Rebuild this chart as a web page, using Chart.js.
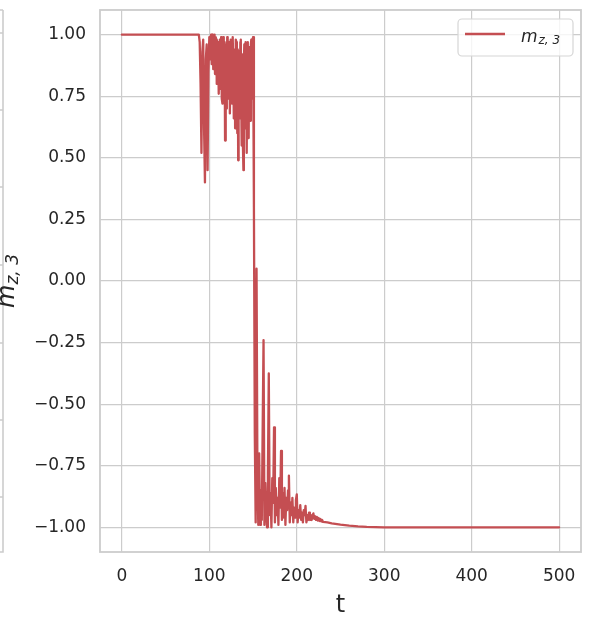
<!DOCTYPE html>
<html>
<head>
<meta charset="utf-8">
<script src="https://cdn.jsdelivr.net/npm/chart.js@4.4.1/dist/chart.umd.min.js"></script>
<style>
  html, body { margin: 0; padding: 0; background: #fff; }
</style>
</head>
<body>
<canvas id="chart" width="596" height="620"></canvas>
<script>
/* ===== data ===== */
const tValues = [
  0, 88, 89, 90, 91, 92, 93, 94, 95, 96, 97, 98, 99,
  100, 100.5, 101, 101.5, 102, 102.5, 103, 103.5, 104, 104.5,
  105, 105.5, 106, 106.5, 107, 107.5, 108, 108.5, 109, 109.5,
  110, 110.5, 111, 111.5, 112, 112.5, 113, 113.5, 114, 114.5,
  115, 115.5, 116, 116.5, 117, 117.5, 118, 118.5, 119, 119.5,
  120, 120.5, 121, 121.5, 122, 122.5, 123, 123.5, 124, 124.5,
  125, 125.5, 126, 126.5, 127, 127.5, 128, 128.5, 129, 129.5,
  130, 130.5, 131, 131.5, 132, 132.5, 133, 133.5, 134, 134.5,
  135, 135.5, 136, 136.5, 137, 137.5, 138, 138.5, 139, 139.5,
  140, 140.5, 141, 141.5, 142, 142.5, 143, 143.5, 144, 144.5,
  145, 145.5, 146, 146.5, 147, 147.5, 148, 148.5, 149, 149.5,
  150, 151, 152, 153, 154, 155, 156, 157, 158, 159,
  160, 161, 162, 163, 164, 165, 166, 167, 168, 169,
  170, 171, 172, 173, 174, 175, 176, 177, 178, 179,
  180, 181, 182, 183, 184, 185, 186, 187, 188, 189,
  190, 191, 192, 193, 194, 195, 196, 197, 198, 199,
  200, 201, 202, 203, 204, 205, 206, 207, 208, 209,
  210, 211, 212, 213, 214, 215, 216, 217, 218, 219,
  220, 221, 222, 223, 224, 225, 226, 227, 228, 229,
  230, 235, 240, 250, 260, 270, 280, 300, 500
];
const mzValues = [
  1.00, 1.00, 0.97, 0.80, 0.52, 0.93, 0.98, 0.62, 0.40, 0.90, 0.96, 0.45, 0.85,
  0.99, 0.90, 0.93, 0.98, 1.00, 0.88, 0.95, 1.00, 0.99, 0.86,
  0.88, 0.97, 1.00, 0.84, 0.90, 0.99, 0.98, 0.80, 0.82, 0.96,
  0.97, 0.86, 0.76, 0.95, 0.98, 0.78, 0.85, 0.99, 0.95, 0.74,
  0.72, 0.94, 0.99, 0.83, 0.80, 0.97, 0.57, 0.88, 0.96, 0.70,
  0.86, 0.99, 0.98, 0.80, 0.74, 0.95, 0.97, 0.68, 0.82, 0.98,
  0.95, 0.76, 0.72, 0.93, 0.99, 0.84, 0.66, 0.90, 0.94, 0.62,
  0.78, 0.98, 0.97, 0.72, 0.60, 0.94, 0.49, 0.80, 0.93, 0.66,
  0.70, 0.97, 0.98, 0.74, 0.55, 0.90, 0.92, 0.58, 0.45, 0.88,
  0.96, 0.70, 0.62, 0.97, 0.90, 0.56, 0.52, 0.93, 0.97, 0.64,
  0.58, 0.92, 0.95, 0.70, 0.65, 0.96, 0.98, 0.74, 0.80, 0.96,
  0.99, 0.30, -0.62, -0.98, 0.05, -0.80, -0.99, -0.70, -0.99, -0.85,
  -0.97, -0.60, -0.24, -0.99, -0.82, -0.92, -1.00, -0.78, -0.375, -0.95,
  -0.86, -1.00, -0.80, -0.90, -0.594, -0.98, -0.84, -0.95, -0.88, -0.99,
  -0.80, -0.92, -0.69, -0.97, -0.86, -0.96, -0.84, -0.99, -0.88, -0.93,
  -0.85, -0.79, -0.98, -0.90, -0.95, -0.88, -0.98, -0.92, -0.96, -0.89,
  -0.866, -0.98, -0.93, -0.96, -0.91, -0.97, -0.94, -0.98, -0.93, -0.95,
  -0.913, -0.98, -0.95, -0.97, -0.94, -0.97, -0.95, -0.97, -0.952, -0.943,
  -0.965, -0.955, -0.97, -0.958, -0.972, -0.962, -0.974, -0.966, -0.976, -0.97,
  -0.978, -0.98, -0.984, -0.989, -0.993, -0.996, -0.998, -1.00, -1.00
];

const xTicks = [0, 100, 200, 300, 400, 500];
const yTicks = [-1, -0.75, -0.5, -0.25, 0, 0.25, 0.5, 0.75, 1];
const seriesName = "m";
const seriesSub = "z, 3";
const xTitle = "t";

/* ===== styles ===== */
const RED = "#c44e52";
const GRID = "#cccccc";
const TEXT = "#262626";
const FONT = "'DejaVu Sans', sans-serif";

const points = tValues.map((t, i) => ({ x: t, y: mzValues[i] }));

function fmtY(v) {
  return v.toFixed(2).replace("-", "\u2212");
}

/* frame, y label, legend and the edge of the neighbouring panel */
const decorations = {
  id: "decorations",
  beforeDraw(chart) {
    const ctx = chart.ctx;
    const a = chart.chartArea;
    ctx.save();
    ctx.strokeStyle = GRID;
    ctx.lineWidth = 1.6;
    ctx.beginPath();
    ctx.moveTo(3, a.top);
    ctx.lineTo(3, a.bottom);
    ctx.lineTo(0, a.bottom);
    ctx.moveTo(3, a.top);
    ctx.lineTo(0, a.top);
    [33, 110, 187, 265, 343, 420, 497].forEach(y => {
      ctx.moveTo(0, y);
      ctx.lineTo(3, y);
    });
    ctx.stroke();
    ctx.restore();
  },
  afterDatasetsDraw(chart) {
    const ctx = chart.ctx;
    const a = chart.chartArea;
    ctx.save();
    ctx.strokeStyle = GRID;
    ctx.lineWidth = 1.8;
    ctx.strokeRect(a.left, a.top, a.right - a.left, a.bottom - a.top);
    ctx.restore();
  },
  afterDraw(chart) {
    const ctx = chart.ctx;
    const a = chart.chartArea;

    // y axis label m_{z,3}
    ctx.save();
    ctx.translate(14, (a.top + a.bottom) / 2);
    ctx.rotate(-Math.PI / 2);
    ctx.fillStyle = TEXT;
    ctx.textBaseline = "alphabetic";
    ctx.font = "italic 24px " + FONT;
    const mW = ctx.measureText(seriesName).width;
    ctx.font = "italic 17px " + FONT;
    const sW = ctx.measureText(seriesSub).width;
    const start = -(mW + sW) / 2;
    ctx.font = "italic 24px " + FONT;
    ctx.fillText(seriesName, start, 0);
    ctx.font = "italic 17px " + FONT;
    ctx.fillText(seriesSub, start + mW, 4);
    ctx.restore();

    // legend
    const bx = a.right - 123, by = a.top + 9, bw = 115, bh = 37;
    ctx.save();
    ctx.fillStyle = "rgba(255,255,255,0.8)";
    ctx.strokeStyle = "#d6d6d6";
    ctx.lineWidth = 1.2;
    ctx.beginPath();
    ctx.roundRect(bx, by, bw, bh, 4);
    ctx.fill();
    ctx.stroke();
    ctx.strokeStyle = RED;
    ctx.lineWidth = 2.3;
    ctx.beginPath();
    ctx.moveTo(bx + 7, by + 15);
    ctx.lineTo(bx + 47, by + 15);
    ctx.stroke();
    ctx.fillStyle = TEXT;
    ctx.font = "italic 17px " + FONT;
    ctx.fillText(seriesName, bx + 63, by + 23);
    const lw = ctx.measureText(seriesName).width;
    ctx.font = "italic 12px " + FONT;
    ctx.fillText(seriesSub, bx + 63 + lw + 1, by + 25);
    ctx.restore();
  }
};

new Chart(document.getElementById("chart"), {
  type: "line",
  data: {
    datasets: [{
      label: seriesName + seriesSub,
      data: points,
      borderColor: RED,
      backgroundColor: RED,
      borderWidth: 2.3,
      borderJoinStyle: "round",
      borderCapStyle: "round",
      pointRadius: 0,
      tension: 0,
      fill: false
    }]
  },
  options: {
    responsive: false,
    animation: false,
    devicePixelRatio: 1,
    layout: { padding: { top: 10, right: 15, bottom: 0, left: 0 } },
    plugins: {
      legend: { display: false },
      tooltip: { enabled: false }
    },
    scales: {
      x: {
        type: "linear",
        min: -25,
        max: 525,
        afterBuildTicks: s => { s.ticks = xTicks.map(v => ({ value: v })); },
        afterFit: s => { s.height = 68; s.paddingLeft = 0; s.paddingRight = 0; },
        border: { display: false },
        grid: { color: GRID, lineWidth: 1.2, drawTicks: false },
        ticks: {
          padding: 14,
          color: TEXT,
          font: { family: FONT, size: 17 },
          maxRotation: 0,
          callback: v => String(v)
        },
        title: {
          display: true,
          text: xTitle,
          color: TEXT,
          font: { family: FONT, size: 24 },
          padding: { top: 0, bottom: 0 }
        }
      },
      y: {
        type: "linear",
        min: -1.1,
        max: 1.1,
        afterBuildTicks: s => { s.ticks = yTicks.map(v => ({ value: v })); },
        afterFit: s => { s.width = 100; s.paddingTop = 0; s.paddingBottom = 0; },
        border: { display: false },
        grid: { color: GRID, lineWidth: 1.2, drawTicks: false },
        ticks: {
          padding: 14,
          color: TEXT,
          font: { family: FONT, size: 17 },
          callback: v => fmtY(v)
        }
      }
    }
  },
  plugins: [decorations]
});
</script>
</body>
</html>
